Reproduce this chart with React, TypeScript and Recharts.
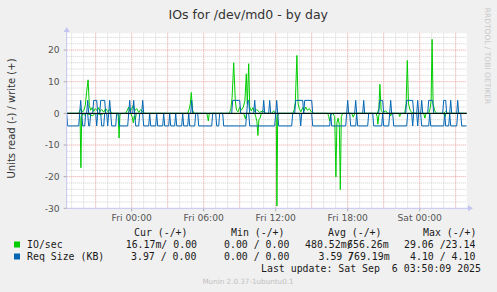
import React from 'react';
import { LineChart, Line, XAxis, YAxis, CartesianGrid, ReferenceLine } from 'recharts';

// time axis: minutes relative to Fri 00:00
const xTicks = [0, 360, 720, 1080, 1440];
const xTickLabels = ['Fri 00:00', 'Fri 06:00', 'Fri 12:00', 'Fri 18:00', 'Sat 00:00'];
const yTicks = [-30, -20, -10, 0, 10, 20];
const minorYGrid = [-28, -26, -24, -22, -18, -16, -14, -12, -8, -6, -4, -2, 2, 4, 6, 8, 12, 14, 16, 18, 22, 24];
const majorYGrid = [-20, -10, 10, 20];
const minorXGrid = [-300, -240, -120, -60, 60, 120, 240, 300, 420, 480, 600, 660, 780, 840, 960, 1020, 1140, 1200, 1320, 1380, 1500, 1560];
const majorXGrid = [-180, 0, 180, 360, 540, 720, 900, 1080, 1260, 1440, 1620];

// IO/sec write (+)
const ioWrite: [number, number][] = [
  [-325, 0], [-265, 0], [-260, 0.8], [-255, 1.5], [-250, 0.5], [-240, 0.8], [-232, 2.5], [-225, 7], [-218, 10.6], [-212, 2.5],
  [-205, 1], [-198, 1.8], [-190, 0.6], [-182, 1.5], [-172, 0.8], [-165, 1.8], [-158, 0.6], [-150, 1.2], [-140, 0.4], [-130, 1.5],
  [-120, 0.6], [-110, 1.2], [-100, 0],
  [-30, 0], [-22, 1], [-15, 2], [-8, 0.5], [0, 1.5], [8, 2.5], [15, 0.8], [25, 1.5], [35, 0.3], [45, 1.2], [55, 0.5], [65, 0],
  [280, 0], [288, 1.5], [293, 3], [298, 6.6], [304, 1], [312, 0],
  [485, 0], [495, 1], [502, 5], [510, 16], [518, 4], [524, 1], [532, 0.5], [540, 2], [548, 1], [558, 2], [566, 4], [573, 12.5],
  [578, 3], [585, 15.7], [590, 2], [598, 0.8], [606, 1.8], [614, 0.5], [625, 1.2], [640, 0.3], [655, 0.8], [670, 0],
  [700, 0], [710, 0.8], [718, 0],
  [805, 0], [812, 1], [818, 3.5], [826, 18.3], [832, 3], [838, 1.5], [846, 0.5], [855, 1.8], [862, 0.8], [870, 2], [878, 1],
  [888, 1.5], [898, 0.5], [910, 0],
  [1228, 0], [1236, 1.5], [1241, 9.2], [1247, 1], [1255, 0.3], [1270, 0.8], [1280, 0],
  [1365, 0], [1372, 3], [1378, 16.7], [1384, 3], [1392, 1], [1400, 0.3], [1412, 0],
  [1485, 0], [1492, 1.5], [1497, 4], [1502, 23.4], [1507, 3], [1515, 0.8], [1525, 0],
  [1560, 0], [1570, 0.6], [1580, 0], [1675, 0],
];

// IO/sec read (-)
const ioRead: [number, number][] = [
  [-325, 0], [-262, 0], [-258, -1.5], [-254, -17.2], [-250, -1], [-244, 0], [-235, -0.5], [-225, 0], [-195, -0.8], [-185, 0],
  [-150, -0.4], [-140, 0], [-70, 0], [-67, -1], [-63, -7.8], [-59, -0.5], [-52, 0],
  [-5, 0], [3, -1.2], [8, -3], [13, -0.8], [18, -2], [23, 0],
  [375, 0], [379, -0.8], [383, -2.4], [388, 0],
  [560, 0], [568, -1.7], [575, 0],
  [615, 0], [620, -1], [626, -2.5], [631, -7], [636, -2], [642, -1.5], [648, 0],
  [720, 0], [723, -2], [726, -29.3], [730, -1], [735, 0],
  [980, 0], [985, -1], [990, -2.4], [995, -0.5], [1005, 0], [1015, -1], [1021, -20.1], [1026, -3], [1032, -1.5], [1038, -3.5],
  [1043, -24.1], [1048, -1], [1055, 0],
  [1100, 0], [1108, -1.2], [1115, 0],
  [1222, 0], [1227, -1], [1231, -3.4], [1236, -0.5], [1242, 0],
  [1290, 0], [1295, -0.8], [1300, 0], [1335, 0], [1340, -1], [1345, 0],
  [1460, 0], [1466, -1.5], [1472, 0],
  [1560, 0], [1566, -1.2], [1572, 0], [1675, 0],
];

// Req Size (KB) read (-)
const reqRead: [number, number][] = [
  [-325, 0], [-320, -3.97], [-265, -3.97], [-260, 0], [-250, 0], [-245, -3.97], [-235, -3.97], [-230, 0], [-220, 0], [-215, -3.97],
  [-210, -3.97], [-205, 0], [-180, 0], [-175, -3.97], [-170, 0], [-155, 0], [-150, -3.97], [-140, -3.97], [-135, 0], [-125, 0],
  [-120, -3.97], [-115, 0], [-105, 0], [-100, -3.97], [-80, -3.97], [-75, 0], [-65, 0], [-60, -3.97], [-20, -3.97], [-15, 0],
  [15, 0], [20, -3.97], [35, -3.97], [40, 0], [55, 0], [60, -3.97], [85, -3.97], [90, 0], [95, -3.97], [120, -3.97], [125, 0],
  [130, -3.97], [155, -3.97], [160, 0], [165, -3.97], [185, -3.97], [190, 0], [195, -3.97], [215, -3.97], [220, 0], [225, -3.97],
  [250, -3.97], [255, 0], [260, -3.97], [280, -3.97], [285, 0], [290, -3.97], [315, -3.97], [320, 0], [330, 0], [335, -3.97],
  [400, -3.97], [405, 0], [420, 0], [425, -3.97], [435, -3.97], [440, 0], [455, 0], [460, -3.97], [570, -3.97], [575, 0],
  [585, 0], [590, -3.97], [715, -3.97], [720, 0], [730, 0], [735, -3.97], [800, -3.97], [805, 0], [840, 0], [845, -3.97],
  [850, 0], [900, 0], [905, -3.97], [990, -3.97], [995, 0], [1000, -3.97], [1070, -3.97], [1075, 0], [1090, 0], [1095, -3.97],
  [1120, -3.97], [1125, 0], [1130, -3.97], [1180, -3.97], [1185, 0], [1205, 0], [1210, -3.97], [1250, -3.97], [1255, 0],
  [1260, -3.97], [1285, -3.97], [1290, 0], [1305, 0], [1310, -3.97], [1375, -3.97], [1380, 0], [1400, 0], [1405, -3.97],
  [1410, 0], [1425, 0], [1430, -3.97], [1435, 0], [1445, 0], [1450, -3.97], [1485, -3.97], [1490, 0], [1495, -3.97],
  [1560, -3.97], [1565, 0], [1570, -3.97], [1585, -3.97], [1590, 0], [1595, -3.97], [1625, -3.97], [1630, 0], [1645, 0],
  [1650, -3.97], [1675, -3.97],
];

// Req Size (KB) write (+)
const reqWrite: [number, number][] = [
  [-325, 0], [-260, 0], [-255, 4.1], [-250, 0], [-225, 0], [-220, 4.1], [-215, 0], [-195, 0], [-190, 4.1], [-175, 4.1], [-170, 0],
  [-160, 0], [-155, 4.1], [-135, 4.1], [-130, 0], [-115, 0], [-110, 4.1], [-105, 0], [-15, 0], [-10, 4.1], [-5, 0], [5, 0],
  [10, 4.1], [15, 0], [50, 0], [55, 4.1], [60, 0], [295, 0], [300, 4.1], [305, 0], [500, 0], [505, 4.1], [540, 4.1], [545, 0],
  [575, 0], [580, 4.1], [585, 4.1], [590, 0], [610, 0], [615, 4.1], [620, 0], [655, 0], [660, 4.1], [665, 0], [685, 0],
  [690, 4.1], [695, 0], [720, 0], [725, 4.1], [730, 0], [815, 0], [820, 4.1], [855, 4.1], [860, 0], [865, 4.1], [900, 4.1],
  [905, 0], [1075, 0], [1080, 4.1], [1085, 0], [1115, 0], [1120, 4.1], [1125, 0], [1155, 0], [1160, 4.1], [1165, 0],
  [1235, 0], [1240, 4.1], [1255, 4.1], [1260, 0], [1290, 0], [1295, 4.1], [1300, 0], [1370, 0], [1375, 4.1], [1405, 4.1],
  [1410, 0], [1425, 0], [1430, 4.1], [1435, 0], [1445, 0], [1450, 4.1], [1455, 0], [1480, 0], [1485, 4.1], [1505, 4.1],
  [1510, 0], [1555, 0], [1560, 4.1], [1570, 4.1], [1575, 0], [1590, 0], [1595, 4.1], [1600, 0], [1625, 0], [1630, 4.1],
  [1635, 0], [1675, 0],
];

const legendHeaders = ['Cur (-/+)', 'Min (-/+)', 'Avg (-/+)', 'Max (-/+)'];
const ioLegend = ['16.17m/ 0.00', '0.00 / 0.00', '480.52m', '/656.26m', '29.06 /23.14'];
const reqLegend = ['3.97 / 0.00', '0.00 / 0.00', '3.59 ', '/769.19m', '4.10 / 4.10'];
const lastUpdate = 'Last update: Sat Sep  6 03:50:09 2025';

const GREEN = '#00CC00';
const BLUE = '#0066B3';
const SANS = 'DejaVu Sans, sans-serif';
const MONO = 'DejaVu Sans Mono, monospace';
const AXIS = '#c4c4f0';

const rows = (pts: [number, number][]) => pts.map(([t, v]) => ({ t, v }));

export default function App() {
  const mono = { fontFamily: MONO, fontSize: 9.9, fill: '#1a1a1a', whiteSpace: 'pre' as const };
  return (
    <div style={{ position: 'absolute', left: 0, top: 0, width: 497, height: 292, background: '#F0F0F0', overflow: 'hidden' }}>
      <LineChart width={497} height={292} margin={{ top: 33.3, right: 30.3, left: 6.7, bottom: 63.7 }}>
        <CartesianGrid fill="#ffffff" horizontalValues={minorYGrid} verticalValues={minorXGrid} stroke="#cfcfcf" strokeDasharray="1 1" />
        <CartesianGrid horizontalValues={majorYGrid} verticalValues={majorXGrid} stroke="#e89a9a" strokeDasharray="1 1" />
        <XAxis
          dataKey="t"
          type="number"
          domain={[-325, 1675]}
          allowDataOverflow
          ticks={xTicks}
          interval={0}
          tickFormatter={(v: number) => xTickLabels[xTicks.indexOf(v)] ?? ''}
          height={20}
          tickSize={3}
          tickMargin={3}
          axisLine={false}
          tickLine={{ stroke: '#aaaaaa' }}
          tick={{ fontSize: 9.2, fill: '#555', fontFamily: SANS }}
        />
        <YAxis
          type="number"
          domain={[-30, 25.3]}
          allowDataOverflow
          ticks={yTicks}
          interval={0}
          width={60}
          tickSize={3}
          tickMargin={4}
          axisLine={false}
          tickLine={{ stroke: '#aaaaaa' }}
          tick={{ fontSize: 9.2, fill: '#555', fontFamily: SANS }}
        />
        <Line data={rows(ioRead)} dataKey="v" stroke={GREEN} strokeWidth={1} dot={false} activeDot={false} isAnimationActive={false} />
        <Line data={rows(ioWrite)} dataKey="v" stroke={GREEN} strokeWidth={1} dot={false} activeDot={false} isAnimationActive={false} />
        <Line data={rows(reqRead)} dataKey="v" stroke={BLUE} strokeWidth={1} dot={false} activeDot={false} isAnimationActive={false} />
        <Line data={rows(reqWrite)} dataKey="v" stroke={BLUE} strokeWidth={1} dot={false} activeDot={false} isAnimationActive={false} />
        <ReferenceLine y={0} stroke="#000000" strokeWidth={1} />
      </LineChart>
      <svg width={497} height={292} style={{ position: 'absolute', left: 0, top: 0, pointerEvents: 'none' }}>
        <text x={248.3} y={18.5} textAnchor="middle" fontFamily={SANS} fontSize={12.5} fill="#333">IOs for /dev/md0 - by day</text>
        <text transform="translate(15,118.5) rotate(-90)" textAnchor="middle" fontFamily={SANS} fontSize={10} fill="#333">Units read (-) / write (+)</text>
        <text transform="translate(485,56) rotate(90)" textAnchor="middle" fontFamily={SANS} fontSize={7.5} fill="#c8c8c8">RRDTOOL / TOBI OETIKER</text>
        <line x1={66.7} y1={30} x2={66.7} y2={208.3} stroke={AXIS} strokeWidth={1} />
        <line x1={66.7} y1={208.3} x2={470} y2={208.3} stroke={AXIS} strokeWidth={1} />
        <polygon points="63.7,32 66.7,27 69.7,32" fill={AXIS} />
        <polygon points="468,205.3 473,208.3 468,211.3" fill={AXIS} />
        <text x={134} y={236} style={mono}>{legendHeaders[0]}</text>
        <text x={231} y={236} style={mono}>{legendHeaders[1]}</text>
        <text x={328} y={236} style={mono}>{legendHeaders[2]}</text>
        <text x={423} y={236} style={mono}>{legendHeaders[3]}</text>
        <rect x={14} y={241.5} width={6} height={6} fill={GREEN} />
        <text x={27} y={248} style={mono}>IO/sec</text>
        <text x={125.7} y={248} style={mono}>{ioLegend[0]}</text>
        <text x={224} y={248} style={mono}>{ioLegend[1]}</text>
        <text x={305} y={248} style={mono}>{ioLegend[2]}</text>
        <text x={347} y={248} style={mono}>{ioLegend[3].slice(0, 1)}</text>
        <text x={347} y={248} style={mono}>{ioLegend[3].slice(1)}</text>
        <text x={404} y={248} style={mono}>{ioLegend[4]}</text>
        <rect x={14} y={253.5} width={6} height={6} fill={BLUE} />
        <text x={27} y={260} style={mono}>Req Size (KB)</text>
        <text x={131} y={260} style={mono}>{reqLegend[0]}</text>
        <text x={224} y={260} style={mono}>{reqLegend[1]}</text>
        <text x={318.5} y={260} style={mono}>{reqLegend[2]}</text>
        <text x={348} y={260} style={mono}>{reqLegend[3].slice(0, 1)}</text>
        <text x={348} y={260} style={mono}>{reqLegend[3].slice(1)}</text>
        <text x={410} y={260} style={mono}>{reqLegend[4]}</text>
        <text x={261} y={272} style={mono}>{lastUpdate}</text>
        <text x={248} y={284} textAnchor="middle" fontFamily={SANS} fontSize={7.2} fill="#c0c0c0">Munin 2.0.37-1ubuntu0.1</text>
      </svg>
    </div>
  );
}
